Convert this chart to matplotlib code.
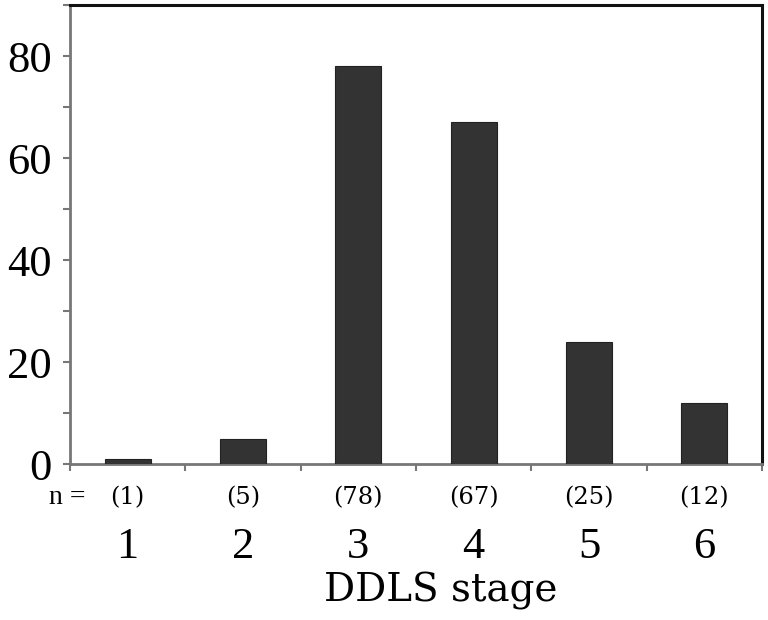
import matplotlib
matplotlib.use("Agg")
import matplotlib.pyplot as plt
from matplotlib.ticker import MultipleLocator, FixedLocator, NullFormatter, FixedFormatter
import numpy as np

stages = ["1", "2", "3", "4", "5", "6"]
counts = [1, 5, 78, 67, 24, 12]
n_labels = ["(1)", "(5)", "(78)", "(67)", "(25)", "(12)"]
xlabel = "DDLS stage"

plt.rcParams['font.family'] = ['Liberation Serif', 'DejaVu Serif']

fig = plt.figure(figsize=(7.68, 6.2), dpi=100)
ax = fig.add_axes([70/768, 1-464/620, (762-70)/768, (464-5)/620])

x = np.arange(len(stages))
ax.bar(x, counts, width=0.4, color="#333333", edgecolor="#222222", linewidth=0.8, zorder=3)

ax.set_xlim(-0.5, len(stages)-0.5)
ax.set_ylim(0, 90)

# y ticks
ax.yaxis.set_major_locator(MultipleLocator(20))
ax.yaxis.set_minor_locator(MultipleLocator(10))
ax.tick_params(axis='y', which='both', direction='out', length=5, width=1.5, color="#777777",
               labelsize=32, pad=8)

# x ticks: major at boundaries (no labels), minor at centers with labels
ax.xaxis.set_major_locator(FixedLocator(np.arange(-0.5, len(stages), 1.0)))
ax.xaxis.set_major_formatter(NullFormatter())
ax.xaxis.set_minor_locator(FixedLocator(x))
ax.xaxis.set_minor_formatter(FixedFormatter(stages))
ax.tick_params(axis='x', which='major', direction='out', length=5, width=1.5, color="#777777")
ax.tick_params(axis='x', which='minor', length=0, labelsize=32, pad=94*0.72)
for lab in ax.get_xminorticklabels():
    lab.set_verticalalignment('baseline')

for side in ['left', 'bottom']:
    ax.spines[side].set_color("#777777")
    ax.spines[side].set_linewidth(2)
for side in ['top', 'right']:
    ax.spines[side].set_color("#111111")
    ax.spines[side].set_linewidth(2.2)

# n labels
for xi, lab in zip(x, n_labels):
    ax.annotate(lab, xy=(xi, 0), xycoords='data', xytext=(0, -40*0.72), textcoords='offset points',
                ha='center', va='baseline', fontsize=17.5, family='DejaVu Serif')
ax.annotate("n =", xy=(x[0], 0), xycoords='data', xytext=(-42*0.72, -40*0.72), textcoords='offset points',
            ha='right', va='baseline', fontsize=20, family='Liberation Serif')

ax.set_xlabel(xlabel, fontsize=28, family='DejaVu Serif', va='baseline')
ax.xaxis.set_label_coords((441-70)/692, -(602-464)/459)

fig.savefig("out.png", dpi=100)
